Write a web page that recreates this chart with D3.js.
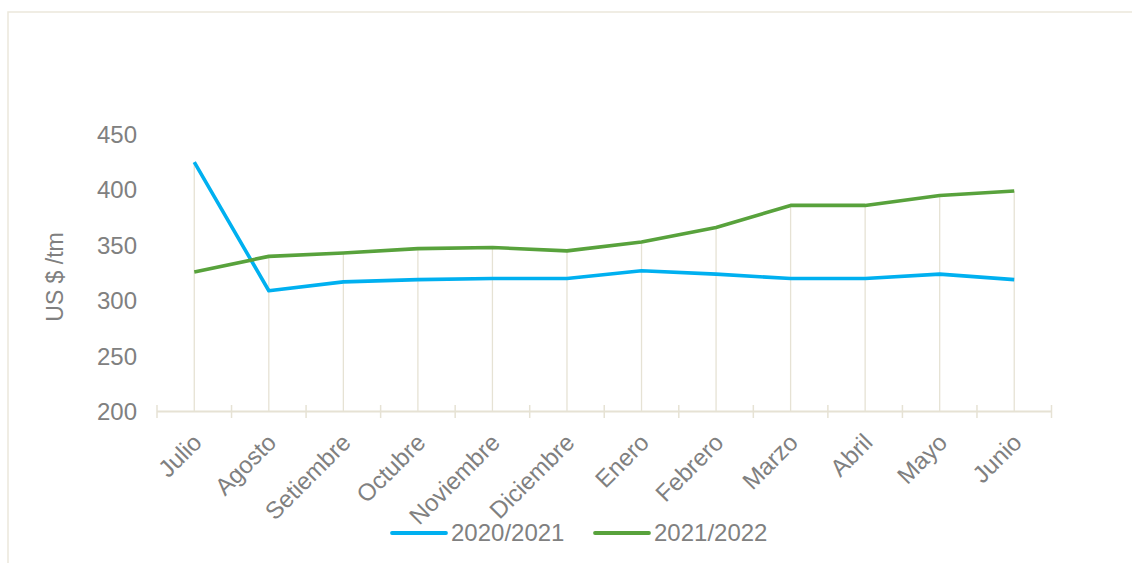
<!DOCTYPE html>
<html>
<head>
<meta charset="utf-8">
<script src="https://cdn.jsdelivr.net/npm/d3@7"></script>
<style>
  body { margin:0; background:#fff; }
  svg { display:block; font-family:"Liberation Sans", Arial, sans-serif; }
</style>
</head>
<body>
<script>
// data
const months = ["Julio","Agosto","Setiembre","Octubre","Noviembre","Diciembre",
                "Enero","Febrero","Marzo","Abril","Mayo","Junio"];
const series2021 = [425, 309, 317, 319, 320, 320, 327, 324, 320, 320, 324, 319];
const series2022 = [326, 340, 343, 347, 348, 345, 353, 366, 386, 386, 395, 399];
const yTicks = [200, 250, 300, 350, 400, 450];
const seriesNames = ["2020/2021", "2021/2022"];
const seriesColors = ["#00b0f0", "#58a23c"];

const width = 1132, height = 563;
const grey = "#808080", beige = "#e6e2d4";

const svg = d3.select("body").append("svg")
    .attr("width", width).attr("height", height);

// outer frame of the chart area
svg.append("rect")
    .attr("x", 8).attr("y", 12)
    .attr("width", width).attr("height", height)
    .attr("fill", "none").attr("stroke", "#ebe8dc").attr("stroke-width", 1.5);

// scales
const x = d3.scaleBand().domain(months).range([157, 1051.5]);
const xc = m => x(m) + x.bandwidth() / 2;
const y = d3.scaleLinear().domain([200, 450]).range([411.5, 134.5]);

const rows = months.map((m, i) => ({ month: m, a: series2021[i], b: series2022[i] }));

// drop lines from the axis to the highest point
svg.append("g").selectAll("line").data(rows).join("line")
    .attr("x1", d => xc(d.month)).attr("x2", d => xc(d.month))
    .attr("y1", y(200)).attr("y2", d => y(Math.max(d.a, d.b)))
    .attr("stroke", beige).attr("stroke-width", 1.3);

// x axis: line with crossing ticks between categories
const xAxis = svg.append("g");
xAxis.append("line")
    .attr("x1", x.range()[0]).attr("x2", x.range()[1])
    .attr("y1", y(200)).attr("y2", y(200))
    .attr("stroke", beige).attr("stroke-width", 2);
const bounds = months.map(m => x(m)).concat([x.range()[1]]);
xAxis.selectAll("line.tick").data(bounds).join("line").attr("class", "tick")
    .attr("x1", d => d).attr("x2", d => d)
    .attr("y1", y(200) - 6.5).attr("y2", y(200) + 6.5)
    .attr("stroke", beige).attr("stroke-width", 1.5);

// month labels, rotated
xAxis.selectAll("text").data(months).join("text")
    .attr("transform", d => `translate(${xc(d) + 3},438) rotate(-45)`)
    .attr("text-anchor", "end").attr("dy", "0.35em")
    .attr("fill", grey).style("font-size", "24px")
    .text(d => d);

// y axis labels (no axis line)
svg.append("g").selectAll("text").data(yTicks).join("text")
    .attr("x", 137).attr("y", d => y(d)).attr("dy", "0.35em")
    .attr("text-anchor", "end").attr("fill", grey).style("font-size", "24px")
    .text(d => d);

svg.append("text")
    .attr("transform", "translate(55,277) rotate(-90)")
    .attr("text-anchor", "middle").attr("dy", "0.35em")
    .attr("fill", grey).style("font-size", "23px")
    .text("US $ /tm");

// lines
const line = d3.line().x(d => xc(d.month)).y(d => y(d.v));
[series2021, series2022].forEach((vals, i) => {
  svg.append("path")
      .datum(months.map((m, j) => ({ month: m, v: vals[j] })))
      .attr("d", line)
      .attr("fill", "none").attr("stroke", seriesColors[i])
      .attr("stroke-width", 3.6).attr("stroke-linejoin", "round");
});

// legend
const legendX = [392, 595];
const legend = svg.append("g").selectAll("g").data(seriesNames).join("g")
    .attr("transform", (d, i) => `translate(${legendX[i]},533)`);
legend.append("line")
    .attr("x1", 0).attr("x2", 54).attr("y1", 0).attr("y2", 0)
    .attr("stroke", (d, i) => seriesColors[i]).attr("stroke-width", 3.8)
    .attr("stroke-linecap", "round");
legend.append("text")
    .attr("x", 59).attr("dy", "0.35em")
    .attr("fill", grey).style("font-size", "24px")
    .text(d => d);
</script>
</body>
</html>
